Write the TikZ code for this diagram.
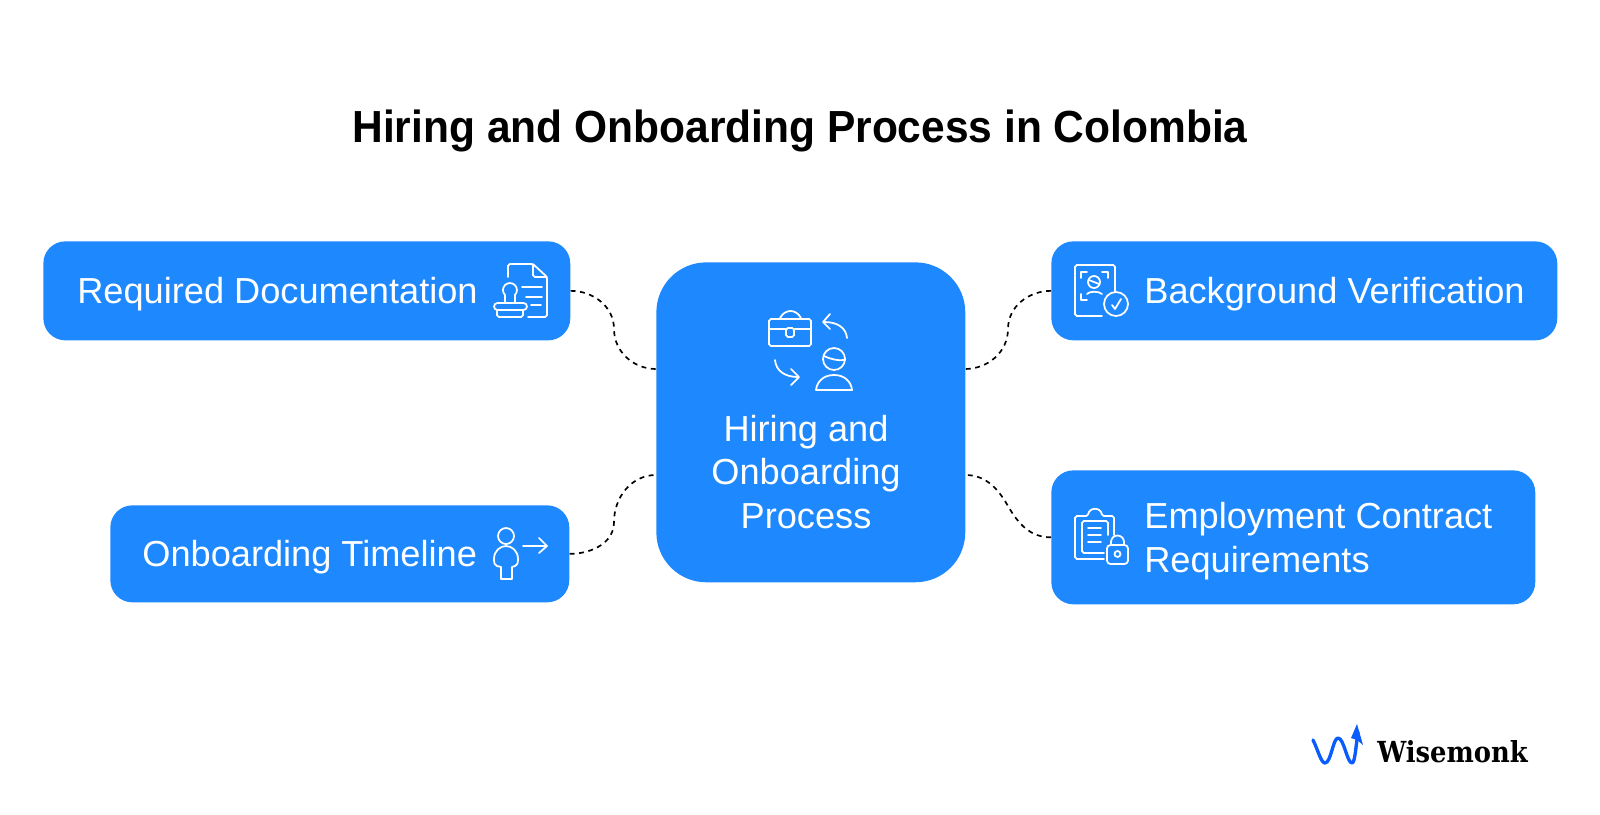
\documentclass[tikz,border=0pt]{standalone}
\usepackage{fontspec}
\setmainfont{Liberation Sans}
\newfontfamily\titlefont[FakeStretch=0.945]{Liberation Sans}
\newfontfamily\logofont[FakeStretch=0.89]{DejaVu Serif}
\usetikzlibrary{positioning}
\definecolor{boxblue}{HTML}{1E88FF}
\definecolor{logoblue}{HTML}{0A5CFF}
\tikzset{
	card/.style={fill=boxblue, rounded corners=22*0.02cm, inner sep=0pt, anchor=north west},
	label/.style={text=white, inner sep=0pt, anchor=west, align=left, font=\fontsize{20.6}{25}\selectfont},
	icon/.style={draw=white, line width=1pt, line cap=round, line join=round, rounded corners=1pt},
	link/.style={draw=black, line width=0.95pt, dash pattern=on 2.8pt off 2.6pt},
}
\begin{document}
\begin{tikzpicture}[x=0.02cm, y=-0.02cm]
	\useasboundingbox (0,0) rectangle (1600,815);
	\node[anchor=center, inner sep=0pt, font=\fontsize{25.6}{30}\titlefont\bfseries] (title) at (800,131) {Hiring and Onboarding Process in Colombia};
	% boxes
	\node[card, minimum width=10.54cm, minimum height=1.98cm] (docs) at (43,241) {};
	\node[card, minimum width=9.18cm, minimum height=1.94cm] (timeline) at (110,505) {};
	\node[card, rounded corners=1cm, minimum width=6.18cm, minimum height=6.4cm] (process) at (656,262) {};
	\node[card, minimum width=10.12cm, minimum height=1.98cm] (verify) at (1051,241) {};
	\node[card, minimum width=9.68cm, minimum height=2.68cm] (contract) at (1051,470) {};
	% texts
	\node[label] (docstext) at (77,294) {Required Documentation};
	\node[label] (timelinetext) at (142,557) {Onboarding Timeline};
	\node[label, anchor=center, align=center] (processtext) at (806,472) {Hiring and\\Onboarding\\Process};
	\node[label] (verifytext) at (1144,294) {Background Verification};
	\node[label] (contracttext) at (1144,541) {Employment Contract\\Requirements};
	% connectors
	\coordinate (p1) at (656,369);
	\coordinate (p2) at (656,475);
	\coordinate (p3) at (965,369);
	\coordinate (p4) at (965,475);
	\coordinate (m1) at (614,329);
	\coordinate (m2) at (614,522);
	\coordinate (m3) at (1008,329);
	\coordinate (m4) at (1008,506);
	\draw[link] (docs.east) to[out=0, in=90] (m1) to[out=-90, in=180] (p1);
	\draw[link] (timeline.east) to[out=0, in=-90] (m2) to[out=90, in=180] (p2);
	\draw[link] (verify.west) to[out=180, in=90] (m3) to[out=-90, in=0] (p3);
	\draw[link] (contract.west) to[out=180, in=-60] (m4) to[out=120, in=0] (p4);
	% document and stamp
	\draw[icon] (508,277) -- (508,264) -- (533,264) -- (547,277) -- (547,317) -- (528,317);
	\draw[icon] (533,264) -- (533,277) -- (547,277);
	\draw[icon] (522,287) -- (542,287) (526,297) -- (542,297) (531,305) -- (541,305);
	\draw[icon, rounded corners=0pt] (505,303) -- (505,295) arc[start angle=135, end angle=405, radius=7] -- (515,303);
	\draw[icon, rounded corners=2pt] (494,303) rectangle (527,310);
	\draw[icon] (497,310) -- (497,317) -- (523,317) -- (523,310);
	% briefcase and person
	\draw[icon] (769,319) rectangle (811,346);
	\draw[icon] (769,329) -- (786,329) (794,329) -- (811,329);
	\draw[icon] (786,328) rectangle (794,337);
	\draw[icon, rounded corners=3pt] (780,318) -- (785,311) -- (796,311) -- (801,318);
	\draw[icon] (847,338) .. controls (846,328) and (838,322) .. (824,322);
	\draw[icon, rounded corners=0pt] (830,314) -- (823,322) -- (830,329);
	\draw[icon] (775,360) .. controls (776,371) and (785,377) .. (798,377);
	\draw[icon, rounded corners=0pt] (791,369) -- (799,377) -- (791,385);
	\draw[icon] (834,359) circle[radius=11];
	\draw[icon] (824,356) .. controls (830,359) and (838,361) .. (845,360);
	\draw[icon, rounded corners=0pt] (816,390) .. controls (817,381) and (824,375) .. (834,375) .. controls (844,375) and (851,381) .. (852,390) -- cycle;
	% verification
	\draw[icon] (1115,292) -- (1115,265) -- (1075,265) -- (1075,316) -- (1102,316);
	\draw[icon, rounded corners=0pt] (1081,278) -- (1081,272) -- (1087,272) (1102,272) -- (1108,272) -- (1108,278) (1081,294) -- (1081,300) -- (1087,300);
	\draw[icon] (1094,282) circle[radius=6];
	\draw[icon] (1089,280) -- (1099,284);
	\draw[icon, rounded corners=0pt] (1087,294) .. controls (1089,291) and (1099,291) .. (1102,294);
	\draw[icon] (1116,304) circle[radius=12];
	\draw[icon, rounded corners=0pt] (1112,305) -- (1115,309) -- (1121,299);
	% clipboard and lock
	\draw[icon] (1114,535) -- (1114,516) -- (1102,516) .. controls (1101,507) and (1089,507) .. (1088,516) -- (1075,516) -- (1075,559) -- (1104,559);
	\draw[icon] (1108,535) -- (1108,521) -- (1082,521) -- (1082,553) -- (1104,553);
	\draw[icon] (1088,528) -- (1101,528) (1088,535) -- (1101,535) (1088,542) -- (1101,542);
	\draw[icon, rounded corners=2pt] (1107,545) rectangle (1128,564);
	\draw[icon, rounded corners=0pt] (1111,545) -- (1111,542) arc[start angle=180, end angle=360, radius=6.5] -- (1124,545);
	\draw[icon] (1117.5,554) circle[radius=3];
	% person and arrow
	\draw[icon] (506,536) circle[radius=8];
	\draw[icon, rounded corners=0pt] (501,579) -- (501,567) -- (497,566) .. controls (495,565) and (494,564) .. (494,559) .. controls (494,551) and (500,546) .. (506,546) .. controls (512,546) and (518,551) .. (518,559) .. controls (518,564) and (517,565) .. (515,566) -- (512,567) -- (512,579) -- cycle;
	\draw[icon, rounded corners=0pt] (523,546) -- (547,546) (539,538) -- (547,546) -- (539,553);
	% logo
	\draw[logoblue, line width=1.9pt, line cap=round, line join=round] (1313,740) .. controls (1318,750) and (1321,763) .. (1325,763) .. controls (1331,763) and (1333,738) .. (1338,738) .. controls (1344,738) and (1347,763) .. (1352,763) .. controls (1355,763) and (1356,745) .. (1358,732);
	\fill[logoblue] (1357,724) -- (1363,745) -- (1357,740) -- (1351,738) -- cycle;
	\node[anchor=base west, inner sep=0pt, font=\fontsize{16.5}{20}\logofont\bfseries] (brand) at (1377,762) {Wisemonk};
\end{tikzpicture}
\end{document}
